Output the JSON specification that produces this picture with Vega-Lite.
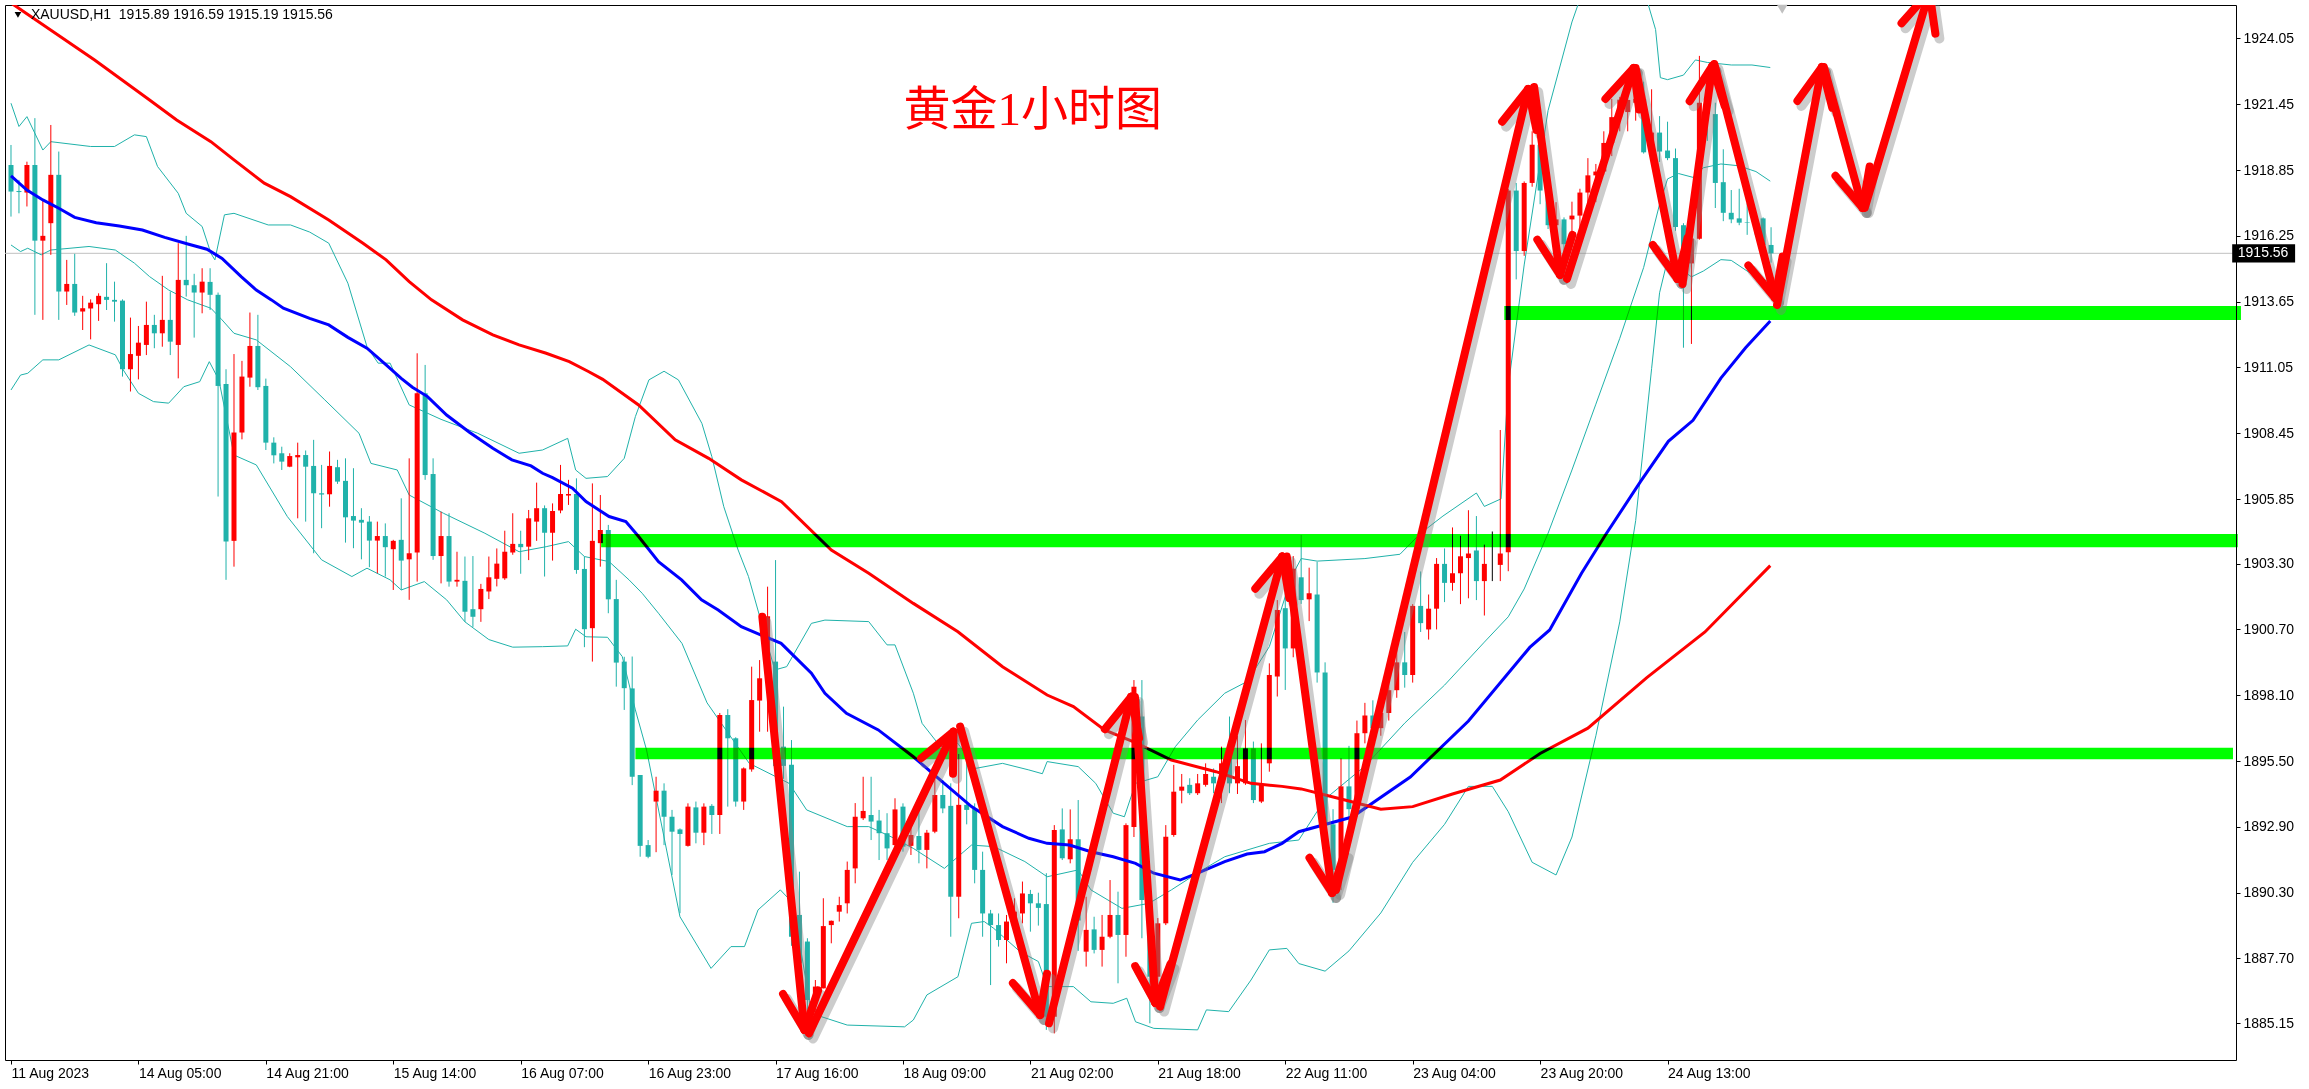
{
"$schema": "https://vega.github.io/schema/vega-lite/v6.json",
"width": 2231, "height": 1055,
"autosize": {"type": "none"},
"padding": {"left": 5, "top": 5, "right": 73, "bottom": 29},
"background": "white",
"config": {"view": {"stroke": "#000000", "strokeWidth": 1}, "axis": {"grid": false, "title": null}},
"datasets": {
"candles": [
{"i":0,"o":1919.05,"h":1919.84,"l":1917.01,"c":1918.00},
{"i":1,"o":1918.02,"h":1918.46,"l":1917.14,"c":1917.98},
{"i":2,"o":1917.96,"h":1919.18,"l":1917.41,"c":1919.05},
{"i":3,"o":1919.05,"h":1920.90,"l":1913.13,"c":1916.06},
{"i":4,"o":1916.06,"h":1917.67,"l":1912.93,"c":1916.25},
{"i":5,"o":1916.75,"h":1920.63,"l":1915.50,"c":1918.66},
{"i":6,"o":1918.66,"h":1919.58,"l":1912.93,"c":1914.05},
{"i":7,"o":1914.05,"h":1915.30,"l":1913.52,"c":1914.35},
{"i":8,"o":1914.35,"h":1915.54,"l":1913.09,"c":1913.22},
{"i":9,"o":1913.26,"h":1913.88,"l":1912.53,"c":1913.39},
{"i":10,"o":1913.38,"h":1913.74,"l":1912.16,"c":1913.61},
{"i":11,"o":1913.55,"h":1913.98,"l":1912.89,"c":1913.88},
{"i":12,"o":1913.84,"h":1915.17,"l":1913.32,"c":1913.72},
{"i":13,"o":1913.72,"h":1914.44,"l":1912.86,"c":1913.65},
{"i":14,"o":1913.69,"h":1913.74,"l":1910.69,"c":1910.98},
{"i":15,"o":1910.98,"h":1913.02,"l":1910.10,"c":1911.58},
{"i":16,"o":1911.51,"h":1912.69,"l":1910.58,"c":1912.03},
{"i":17,"o":1911.94,"h":1913.65,"l":1911.54,"c":1912.73},
{"i":18,"o":1912.73,"h":1913.13,"l":1911.81,"c":1912.40},
{"i":19,"o":1912.40,"h":1914.67,"l":1911.87,"c":1912.93},
{"i":20,"o":1912.93,"h":1914.05,"l":1911.54,"c":1912.07},
{"i":21,"o":1911.94,"h":1915.96,"l":1910.62,"c":1914.51},
{"i":22,"o":1914.51,"h":1916.25,"l":1913.85,"c":1914.30},
{"i":23,"o":1914.30,"h":1914.75,"l":1912.23,"c":1914.01},
{"i":24,"o":1914.01,"h":1914.97,"l":1913.19,"c":1914.44},
{"i":25,"o":1914.43,"h":1914.97,"l":1913.32,"c":1913.92},
{"i":26,"o":1913.92,"h":1914.01,"l":1905.95,"c":1910.32},
{"i":27,"o":1910.40,"h":1910.98,"l":1902.66,"c":1904.17},
{"i":28,"o":1904.20,"h":1911.58,"l":1903.18,"c":1908.48},
{"i":29,"o":1908.48,"h":1911.31,"l":1908.21,"c":1910.69},
{"i":30,"o":1910.65,"h":1913.22,"l":1910.29,"c":1911.90},
{"i":31,"o":1911.90,"h":1913.13,"l":1910.16,"c":1910.27},
{"i":32,"o":1910.32,"h":1910.61,"l":1907.79,"c":1908.08},
{"i":33,"o":1908.08,"h":1908.29,"l":1907.26,"c":1907.58},
{"i":34,"o":1907.66,"h":1907.92,"l":1907.00,"c":1907.33},
{"i":35,"o":1907.13,"h":1907.66,"l":1907.11,"c":1907.55},
{"i":36,"o":1907.50,"h":1908.08,"l":1905.09,"c":1907.59},
{"i":37,"o":1907.59,"h":1907.77,"l":1904.96,"c":1907.13},
{"i":38,"o":1907.16,"h":1908.19,"l":1903.71,"c":1906.08},
{"i":39,"o":1906.08,"h":1907.20,"l":1904.70,"c":1906.03},
{"i":40,"o":1906.04,"h":1907.73,"l":1905.55,"c":1907.16},
{"i":41,"o":1907.11,"h":1907.40,"l":1906.45,"c":1906.54},
{"i":42,"o":1906.57,"h":1907.46,"l":1904.13,"c":1905.13},
{"i":43,"o":1905.18,"h":1907.07,"l":1903.91,"c":1905.00},
{"i":44,"o":1905.03,"h":1905.49,"l":1903.47,"c":1904.92},
{"i":45,"o":1904.96,"h":1905.18,"l":1903.16,"c":1904.21},
{"i":46,"o":1904.21,"h":1904.96,"l":1902.92,"c":1904.39},
{"i":47,"o":1904.39,"h":1904.89,"l":1902.79,"c":1903.95},
{"i":48,"o":1903.87,"h":1904.24,"l":1902.26,"c":1904.20},
{"i":49,"o":1904.24,"h":1905.88,"l":1902.26,"c":1903.42},
{"i":50,"o":1903.47,"h":1907.46,"l":1901.87,"c":1903.71},
{"i":51,"o":1903.74,"h":1911.61,"l":1902.59,"c":1910.03},
{"i":52,"o":1910.03,"h":1911.15,"l":1906.61,"c":1906.80},
{"i":53,"o":1906.84,"h":1907.46,"l":1903.45,"c":1903.60},
{"i":54,"o":1903.60,"h":1905.35,"l":1902.52,"c":1904.39},
{"i":55,"o":1904.39,"h":1905.29,"l":1902.39,"c":1902.59},
{"i":56,"o":1902.59,"h":1903.77,"l":1902.39,"c":1902.66},
{"i":57,"o":1902.62,"h":1903.58,"l":1901.00,"c":1901.40},
{"i":58,"o":1901.50,"h":1903.60,"l":1900.80,"c":1901.20},
{"i":59,"o":1901.50,"h":1902.50,"l":1901.00,"c":1902.30},
{"i":60,"o":1902.20,"h":1903.58,"l":1901.90,"c":1902.76},
{"i":61,"o":1902.70,"h":1903.90,"l":1902.40,"c":1903.30},
{"i":62,"o":1902.72,"h":1904.60,"l":1902.66,"c":1903.77},
{"i":63,"o":1903.74,"h":1905.29,"l":1903.65,"c":1904.08},
{"i":64,"o":1904.08,"h":1904.60,"l":1902.90,"c":1903.95},
{"i":65,"o":1903.97,"h":1905.42,"l":1903.44,"c":1905.09},
{"i":66,"o":1904.96,"h":1906.50,"l":1904.20,"c":1905.49},
{"i":67,"o":1905.49,"h":1905.60,"l":1902.79,"c":1904.52},
{"i":68,"o":1904.52,"h":1905.68,"l":1903.42,"c":1905.38},
{"i":69,"o":1905.40,"h":1907.20,"l":1905.29,"c":1906.05},
{"i":70,"o":1905.99,"h":1906.61,"l":1905.62,"c":1906.05},
{"i":71,"o":1906.05,"h":1906.67,"l":1902.90,"c":1903.05},
{"i":72,"o":1903.09,"h":1903.58,"l":1900.00,"c":1900.71},
{"i":73,"o":1900.75,"h":1906.47,"l":1899.43,"c":1904.20},
{"i":74,"o":1904.11,"h":1906.01,"l":1903.18,"c":1904.63},
{"i":75,"o":1904.63,"h":1904.83,"l":1901.34,"c":1901.89},
{"i":76,"o":1901.90,"h":1902.66,"l":1898.44,"c":1899.39},
{"i":77,"o":1899.43,"h":1899.62,"l":1897.52,"c":1898.38},
{"i":78,"o":1898.37,"h":1899.63,"l":1894.55,"c":1894.88},
{"i":79,"o":1894.95,"h":1894.95,"l":1891.72,"c":1892.15},
{"i":80,"o":1892.18,"h":1892.38,"l":1891.66,"c":1891.72},
{"i":81,"o":1893.90,"h":1894.88,"l":1891.90,"c":1894.33},
{"i":82,"o":1894.33,"h":1894.62,"l":1892.18,"c":1893.30},
{"i":83,"o":1893.30,"h":1893.57,"l":1891.00,"c":1892.71},
{"i":84,"o":1892.80,"h":1892.84,"l":1889.49,"c":1892.62},
{"i":85,"o":1892.15,"h":1893.83,"l":1892.12,"c":1893.70},
{"i":86,"o":1893.67,"h":1893.90,"l":1892.25,"c":1892.67},
{"i":87,"o":1892.67,"h":1893.83,"l":1892.18,"c":1893.70},
{"i":88,"o":1893.73,"h":1893.80,"l":1892.62,"c":1893.37},
{"i":89,"o":1893.37,"h":1897.40,"l":1892.62,"c":1897.32},
{"i":90,"o":1897.32,"h":1897.55,"l":1893.70,"c":1896.40},
{"i":91,"o":1896.40,"h":1896.44,"l":1893.70,"c":1893.90},
{"i":92,"o":1893.90,"h":1895.25,"l":1893.57,"c":1895.21},
{"i":93,"o":1895.17,"h":1899.23,"l":1895.08,"c":1897.91},
{"i":94,"o":1897.89,"h":1899.49,"l":1896.66,"c":1898.77},
{"i":95,"o":1898.77,"h":1902.39,"l":1896.66,"c":1901.22},
{"i":96,"o":1899.43,"h":1903.44,"l":1895.00,"c":1895.30},
{"i":97,"o":1896.07,"h":1897.65,"l":1894.80,"c":1895.31},
{"i":98,"o":1895.35,"h":1896.33,"l":1888.20,"c":1888.56},
{"i":99,"o":1889.42,"h":1891.13,"l":1885.67,"c":1887.51},
{"i":100,"o":1888.37,"h":1888.50,"l":1885.67,"c":1886.06},
{"i":101,"o":1886.13,"h":1886.85,"l":1885.40,"c":1886.59},
{"i":102,"o":1886.52,"h":1890.08,"l":1886.52,"c":1888.98},
{"i":103,"o":1889.02,"h":1889.20,"l":1888.30,"c":1889.19},
{"i":104,"o":1889.55,"h":1890.14,"l":1889.16,"c":1889.81},
{"i":105,"o":1889.88,"h":1891.53,"l":1889.48,"c":1891.20},
{"i":106,"o":1891.26,"h":1893.84,"l":1890.67,"c":1893.30},
{"i":107,"o":1893.24,"h":1894.88,"l":1893.17,"c":1893.53},
{"i":108,"o":1893.37,"h":1894.88,"l":1892.38,"c":1893.11},
{"i":109,"o":1893.15,"h":1893.57,"l":1891.59,"c":1892.65},
{"i":110,"o":1892.65,"h":1893.44,"l":1891.59,"c":1892.05},
{"i":111,"o":1892.18,"h":1894.03,"l":1892.12,"c":1893.59},
{"i":112,"o":1893.70,"h":1893.83,"l":1891.92,"c":1892.12},
{"i":113,"o":1892.15,"h":1893.04,"l":1891.79,"c":1892.58},
{"i":114,"o":1892.54,"h":1893.57,"l":1891.46,"c":1891.99},
{"i":115,"o":1891.99,"h":1892.78,"l":1891.26,"c":1892.67},
{"i":116,"o":1892.71,"h":1894.88,"l":1892.65,"c":1894.16},
{"i":117,"o":1894.16,"h":1894.75,"l":1893.44,"c":1893.63},
{"i":118,"o":1893.73,"h":1894.62,"l":1888.56,"c":1890.14},
{"i":119,"o":1890.14,"h":1895.78,"l":1889.29,"c":1893.77},
{"i":120,"o":1893.77,"h":1895.94,"l":1893.00,"c":1893.57},
{"i":121,"o":1893.63,"h":1893.83,"l":1890.67,"c":1891.20},
{"i":122,"o":1891.20,"h":1891.92,"l":1888.56,"c":1889.48},
{"i":123,"o":1889.48,"h":1889.62,"l":1886.65,"c":1889.02},
{"i":124,"o":1889.02,"h":1889.48,"l":1888.17,"c":1888.43},
{"i":125,"o":1888.43,"h":1889.42,"l":1887.51,"c":1889.16},
{"i":126,"o":1889.16,"h":1890.08,"l":1888.69,"c":1889.55},
{"i":127,"o":1889.48,"h":1890.74,"l":1889.09,"c":1890.27},
{"i":128,"o":1890.25,"h":1890.41,"l":1888.76,"c":1889.88},
{"i":129,"o":1889.88,"h":1890.30,"l":1889.00,"c":1889.70},
{"i":130,"o":1889.85,"h":1891.07,"l":1884.88,"c":1885.40},
{"i":131,"o":1885.40,"h":1892.97,"l":1884.74,"c":1892.78},
{"i":132,"o":1892.80,"h":1893.63,"l":1891.59,"c":1891.66},
{"i":133,"o":1891.62,"h":1893.59,"l":1891.46,"c":1892.41},
{"i":134,"o":1892.41,"h":1893.96,"l":1888.00,"c":1889.20},
{"i":135,"o":1887.97,"h":1890.14,"l":1887.38,"c":1888.83},
{"i":136,"o":1888.85,"h":1889.35,"l":1887.90,"c":1888.04},
{"i":137,"o":1888.04,"h":1889.42,"l":1887.38,"c":1888.56},
{"i":138,"o":1888.56,"h":1890.80,"l":1888.50,"c":1889.42},
{"i":139,"o":1889.42,"h":1890.34,"l":1886.72,"c":1888.63},
{"i":140,"o":1888.63,"h":1893.04,"l":1887.77,"c":1892.97},
{"i":141,"o":1892.90,"h":1898.70,"l":1892.50,"c":1898.44},
{"i":142,"o":1897.26,"h":1898.70,"l":1888.50,"c":1890.01},
{"i":143,"o":1890.01,"h":1890.14,"l":1885.14,"c":1886.98},
{"i":144,"o":1886.98,"h":1889.30,"l":1886.50,"c":1889.09},
{"i":145,"o":1889.09,"h":1892.97,"l":1889.02,"c":1892.51},
{"i":146,"o":1892.58,"h":1895.35,"l":1892.51,"c":1894.29},
{"i":147,"o":1894.33,"h":1894.99,"l":1893.83,"c":1894.49},
{"i":148,"o":1894.56,"h":1894.82,"l":1894.16,"c":1894.23},
{"i":149,"o":1894.23,"h":1894.99,"l":1894.16,"c":1894.62},
{"i":150,"o":1894.56,"h":1895.41,"l":1894.49,"c":1894.99},
{"i":151,"o":1894.88,"h":1895.21,"l":1894.23,"c":1894.62},
{"i":152,"o":1894.62,"h":1896.07,"l":1893.84,"c":1895.41},
{"i":153,"o":1895.67,"h":1897.26,"l":1894.23,"c":1894.62},
{"i":154,"o":1894.62,"h":1896.50,"l":1894.20,"c":1895.30},
{"i":155,"o":1894.62,"h":1897.12,"l":1894.56,"c":1896.00},
{"i":156,"o":1896.00,"h":1896.27,"l":1893.84,"c":1893.96},
{"i":157,"o":1893.90,"h":1896.20,"l":1893.84,"c":1894.56},
{"i":158,"o":1895.41,"h":1899.36,"l":1895.08,"c":1898.90},
{"i":159,"o":1898.84,"h":1901.86,"l":1898.05,"c":1901.47},
{"i":160,"o":1901.54,"h":1902.52,"l":1898.31,"c":1899.95},
{"i":161,"o":1899.95,"h":1903.60,"l":1899.60,"c":1903.10},
{"i":162,"o":1902.76,"h":1904.43,"l":1901.71,"c":1901.86},
{"i":163,"o":1901.89,"h":1903.14,"l":1901.03,"c":1902.13},
{"i":164,"o":1902.08,"h":1903.37,"l":1898.60,"c":1899.00},
{"i":165,"o":1899.00,"h":1899.40,"l":1892.50,"c":1893.00},
{"i":166,"o":1893.00,"h":1893.60,"l":1889.90,"c":1891.20},
{"i":167,"o":1891.20,"h":1895.60,"l":1890.40,"c":1894.50},
{"i":168,"o":1894.50,"h":1896.10,"l":1892.90,"c":1893.60},
{"i":169,"o":1893.60,"h":1897.10,"l":1893.30,"c":1896.60},
{"i":170,"o":1896.60,"h":1897.80,"l":1896.20,"c":1897.30},
{"i":171,"o":1897.30,"h":1897.90,"l":1896.30,"c":1896.80},
{"i":172,"o":1896.80,"h":1898.00,"l":1896.50,"c":1897.40},
{"i":173,"o":1897.40,"h":1898.90,"l":1897.10,"c":1898.30},
{"i":174,"o":1898.30,"h":1900.10,"l":1898.00,"c":1899.40},
{"i":175,"o":1899.40,"h":1900.60,"l":1898.40,"c":1898.90},
{"i":176,"o":1898.90,"h":1901.70,"l":1898.60,"c":1901.63},
{"i":177,"o":1901.63,"h":1902.99,"l":1900.60,"c":1900.95},
{"i":178,"o":1900.70,"h":1902.08,"l":1900.30,"c":1901.52},
{"i":179,"o":1901.52,"h":1903.52,"l":1900.70,"c":1903.29},
{"i":180,"o":1903.29,"h":1903.90,"l":1901.78,"c":1902.54},
{"i":181,"o":1902.54,"h":1904.73,"l":1902.23,"c":1902.92},
{"i":182,"o":1902.92,"h":1904.40,"l":1901.70,"c":1903.59},
{"i":183,"o":1903.52,"h":1905.41,"l":1901.93,"c":1903.70},
{"i":184,"o":1903.82,"h":1905.18,"l":1901.86,"c":1902.61},
{"i":185,"o":1902.61,"h":1904.05,"l":1901.25,"c":1903.29},
{"i":186,"o":1903.29,"h":1904.57,"l":1902.61,"c":1903.29},
{"i":187,"o":1903.25,"h":1908.58,"l":1902.61,"c":1903.70},
{"i":188,"o":1903.75,"h":1918.10,"l":1903.00,"c":1918.04},
{"i":189,"o":1918.04,"h":1918.34,"l":1914.53,"c":1915.65},
{"i":190,"o":1915.65,"h":1918.40,"l":1915.46,"c":1918.34},
{"i":191,"o":1918.34,"h":1920.38,"l":1918.19,"c":1919.85},
{"i":192,"o":1919.85,"h":1921.06,"l":1917.50,"c":1918.04},
{"i":193,"o":1918.04,"h":1918.10,"l":1916.52,"c":1916.67},
{"i":194,"o":1916.67,"h":1917.58,"l":1915.31,"c":1916.90},
{"i":195,"o":1916.90,"h":1916.98,"l":1914.48,"c":1915.92},
{"i":196,"o":1916.90,"h":1917.60,"l":1916.37,"c":1917.05},
{"i":197,"o":1917.05,"h":1918.11,"l":1916.45,"c":1917.96},
{"i":198,"o":1917.96,"h":1919.32,"l":1917.50,"c":1918.64},
{"i":199,"o":1918.64,"h":1919.09,"l":1917.58,"c":1918.79},
{"i":200,"o":1918.79,"h":1920.38,"l":1918.67,"c":1919.92},
{"i":201,"o":1919.92,"h":1921.66,"l":1919.40,"c":1920.94},
{"i":202,"o":1920.94,"h":1921.74,"l":1920.38,"c":1921.63},
{"i":203,"o":1921.14,"h":1922.42,"l":1920.38,"c":1921.62},
{"i":204,"o":1921.51,"h":1922.70,"l":1920.80,"c":1921.66},
{"i":205,"o":1921.66,"h":1922.34,"l":1919.50,"c":1919.55},
{"i":206,"o":1919.55,"h":1922.04,"l":1919.40,"c":1920.33},
{"i":207,"o":1920.33,"h":1920.98,"l":1919.17,"c":1919.58},
{"i":208,"o":1919.62,"h":1920.76,"l":1919.24,"c":1919.32},
{"i":209,"o":1919.32,"h":1919.70,"l":1916.45,"c":1916.60},
{"i":210,"o":1916.67,"h":1916.75,"l":1911.83,"c":1914.71},
{"i":211,"o":1915.16,"h":1916.40,"l":1911.98,"c":1916.14},
{"i":212,"o":1916.14,"h":1923.36,"l":1916.10,"c":1921.51},
{"i":213,"o":1921.51,"h":1922.04,"l":1920.00,"c":1921.06},
{"i":214,"o":1921.06,"h":1921.51,"l":1917.35,"c":1918.34},
{"i":215,"o":1918.37,"h":1919.67,"l":1916.83,"c":1917.16},
{"i":216,"o":1917.16,"h":1918.06,"l":1916.75,"c":1916.90},
{"i":217,"o":1916.94,"h":1918.11,"l":1916.67,"c":1916.77},
{"i":218,"o":1916.78,"h":1917.54,"l":1916.29,"c":1916.76},
{"i":219,"o":1916.80,"h":1917.00,"l":1916.30,"c":1916.70},
{"i":220,"o":1916.94,"h":1916.98,"l":1915.69,"c":1915.89},
{"i":221,"o":1915.89,"h":1916.59,"l":1915.19,"c":1915.56}
],
"bb": [
{"b":"u","i":0,"p":1921.49},{"b":"u","i":1,"p":1920.57},{"b":"u","i":2,"p":1920.96},{"b":"u","i":4,"p":1919.64},{"b":"u","i":5,"p":1919.97},{"b":"u","i":10,"p":1919.78},{"b":"u","i":13,"p":1919.78},{"b":"u","i":15.5,"p":1920.24},{"b":"u","i":17,"p":1920.17},{"b":"u","i":18.4,"p":1918.99},{"b":"u","i":21,"p":1917.93},{"b":"u","i":22,"p":1917.14},{"b":"u","i":24,"p":1916.62},{"b":"u","i":25.1,"p":1915.56},{"b":"u","i":25.6,"p":1915.30},{"b":"u","i":26.8,"p":1917.08},{"b":"u","i":28,"p":1917.14},{"b":"u","i":32.3,"p":1916.68},{"b":"u","i":35.1,"p":1916.68},{"b":"u","i":37.5,"p":1916.40},{"b":"u","i":39.9,"p":1915.96},{"b":"u","i":42.3,"p":1914.38},{"b":"u","i":44.7,"p":1911.87},{"b":"u","i":46.1,"p":1911.22},{"b":"u","i":47.6,"p":1911.22},{"b":"u","i":50,"p":1909.57},{"b":"u","i":54,"p":1909.00},{"b":"u","i":58.6,"p":1908.45},{"b":"u","i":63.8,"p":1907.66},{"b":"u","i":66.75,"p":1907.79},{"b":"u","i":69.9,"p":1908.25},{"b":"u","i":70.9,"p":1907.00},{"b":"u","i":72.2,"p":1906.67},{"b":"u","i":74.9,"p":1906.74},{"b":"u","i":77,"p":1907.46},{"b":"u","i":78.4,"p":1909.11},{"b":"u","i":80.1,"p":1910.56},{"b":"u","i":82,"p":1910.90},{"b":"u","i":83.8,"p":1910.56},{"b":"u","i":86.75,"p":1908.84},{"b":"u","i":88,"p":1907.53},{"b":"u","i":89.5,"p":1905.55},{"b":"u","i":91.3,"p":1903.84},{"b":"u","i":92.6,"p":1902.79},{"b":"u","i":95.9,"p":1899.10},{"b":"u","i":97.4,"p":1899.23},{"b":"u","i":100.5,"p":1900.94},{"b":"u","i":102.2,"p":1901.07},{"b":"u","i":107.7,"p":1901.01},{"b":"u","i":110,"p":1900.09},{"b":"u","i":111,"p":1900.09},{"b":"u","i":113.3,"p":1898.18},{"b":"u","i":114.4,"p":1896.99},{"b":"u","i":116.7,"p":1896.07},{"b":"u","i":118.9,"p":1896.20},{"b":"u","i":121.1,"p":1895.21},{"b":"u","i":124.5,"p":1895.41},{"b":"u","i":127.8,"p":1895.15},{"b":"u","i":129.5,"p":1895.00},{"b":"u","i":130.1,"p":1895.48},{"b":"u","i":134,"p":1895.28},{"b":"u","i":136.2,"p":1894.62},{"b":"u","i":138.4,"p":1893.44},{"b":"u","i":139.8,"p":1893.30},{"b":"u","i":141.2,"p":1894.62},{"b":"u","i":144,"p":1894.88},{"b":"u","i":146.2,"p":1896.07},{"b":"u","i":149,"p":1897.12},{"b":"u","i":152.4,"p":1898.18},{"b":"u","i":155.2,"p":1898.64},{"b":"u","i":158,"p":1900.02},{"b":"u","i":160.8,"p":1902.79},{"b":"u","i":162,"p":1903.50},{"b":"u","i":164,"p":1903.40},{"b":"u","i":170,"p":1903.50},{"b":"u","i":174.4,"p":1903.67},{"b":"u","i":177,"p":1904.50},{"b":"u","i":179.8,"p":1905.18},{"b":"u","i":184,"p":1906.09},{"b":"u","i":185,"p":1905.56},{"b":"u","i":187.1,"p":1905.86},{"b":"u","i":188,"p":1910.30},{"b":"u","i":190,"p":1915.10},{"b":"u","i":193,"p":1921.20},{"b":"u","i":196,"p":1924.70},{"b":"u","i":198,"p":1926.50},{"b":"u","i":203,"p":1927.00},{"b":"u","i":205,"p":1926.00},{"b":"u","i":206.5,"p":1924.40},{"b":"u","i":207.1,"p":1922.50},{"b":"u","i":208,"p":1922.42},{"b":"u","i":210,"p":1922.60},{"b":"u","i":211.5,"p":1923.20},{"b":"u","i":213,"p":1923.10},{"b":"u","i":216,"p":1923.00},{"b":"u","i":218.6,"p":1923.00},{"b":"u","i":220.9,"p":1922.90},
{"b":"m","i":0,"p":1915.89},{"b":"m","i":1.2,"p":1915.63},{"b":"m","i":2.1,"p":1915.76},{"b":"m","i":3.8,"p":1915.50},{"b":"m","i":5,"p":1915.69},{"b":"m","i":9.8,"p":1915.83},{"b":"m","i":13.1,"p":1915.69},{"b":"m","i":15.5,"p":1915.17},{"b":"m","i":17.4,"p":1914.64},{"b":"m","i":19.8,"p":1914.11},{"b":"m","i":22.2,"p":1913.72},{"b":"m","i":25.1,"p":1913.39},{"b":"m","i":26.5,"p":1912.93},{"b":"m","i":28,"p":1912.40},{"b":"m","i":30.8,"p":1912.14},{"b":"m","i":35.1,"p":1911.08},{"b":"m","i":39.4,"p":1909.77},{"b":"m","i":43.7,"p":1908.45},{"b":"m","i":45.2,"p":1907.26},{"b":"m","i":48.5,"p":1907.00},{"b":"m","i":50,"p":1906.01},{"b":"m","i":54.3,"p":1905.29},{"b":"m","i":59.5,"p":1904.50},{"b":"m","i":63.8,"p":1903.77},{"b":"m","i":67.2,"p":1903.97},{"b":"m","i":70,"p":1904.17},{"b":"m","i":72,"p":1903.58},{"b":"m","i":75.1,"p":1903.38},{"b":"m","i":77.6,"p":1902.66},{"b":"m","i":79.25,"p":1902.13},{"b":"m","i":81.3,"p":1901.34},{"b":"m","i":84.25,"p":1900.15},{"b":"m","i":87.4,"p":1897.80},{"b":"m","i":92.7,"p":1895.41},{"b":"m","i":97.7,"p":1894.62},{"b":"m","i":99.9,"p":1893.57},{"b":"m","i":105,"p":1892.91},{"b":"m","i":107.7,"p":1892.91},{"b":"m","i":110.5,"p":1892.51},{"b":"m","i":113.3,"p":1892.05},{"b":"m","i":117.2,"p":1891.26},{"b":"m","i":118.9,"p":1891.72},{"b":"m","i":120.6,"p":1892.18},{"b":"m","i":123.4,"p":1892.12},{"b":"m","i":127.3,"p":1891.53},{"b":"m","i":130.1,"p":1890.93},{"b":"m","i":134,"p":1891.20},{"b":"m","i":135.6,"p":1890.41},{"b":"m","i":139.5,"p":1889.68},{"b":"m","i":142.9,"p":1889.88},{"b":"m","i":145.7,"p":1890.41},{"b":"m","i":149.6,"p":1891.20},{"b":"m","i":152.4,"p":1891.72},{"b":"m","i":158,"p":1892.25},{"b":"m","i":161.7,"p":1892.38},{"b":"m","i":165,"p":1894.00},{"b":"m","i":170,"p":1895.30},{"b":"m","i":175,"p":1897.00},{"b":"m","i":180,"p":1898.50},{"b":"m","i":185,"p":1900.20},{"b":"m","i":188,"p":1901.20},{"b":"m","i":190,"p":1902.30},{"b":"m","i":193,"p":1904.50},{"b":"m","i":196,"p":1907.00},{"b":"m","i":199,"p":1909.60},{"b":"m","i":202,"p":1912.20},{"b":"m","i":205,"p":1915.00},{"b":"m","i":207,"p":1917.50},{"b":"m","i":208,"p":1918.50},{"b":"m","i":209.4,"p":1918.71},{"b":"m","i":211.2,"p":1918.56},{"b":"m","i":212.5,"p":1918.94},{"b":"m","i":214.7,"p":1919.09},{"b":"m","i":216.9,"p":1919.02},{"b":"m","i":219.1,"p":1918.79},{"b":"m","i":220.9,"p":1918.41},
{"b":"l","i":0,"p":1910.16},{"b":"l","i":1.2,"p":1910.75},{"b":"l","i":2.1,"p":1910.82},{"b":"l","i":4,"p":1911.35},{"b":"l","i":6,"p":1911.35},{"b":"l","i":9.8,"p":1911.94},{"b":"l","i":13.1,"p":1911.55},{"b":"l","i":14.1,"p":1910.95},{"b":"l","i":16,"p":1910.03},{"b":"l","i":17.9,"p":1909.70},{"b":"l","i":19.8,"p":1909.64},{"b":"l","i":21.7,"p":1910.29},{"b":"l","i":23.7,"p":1910.49},{"b":"l","i":24.9,"p":1911.28},{"b":"l","i":26.1,"p":1910.56},{"b":"l","i":28,"p":1907.59},{"b":"l","i":30.8,"p":1907.20},{"b":"l","i":34.7,"p":1905.16},{"b":"l","i":39,"p":1903.45},{"b":"l","i":42.8,"p":1902.79},{"b":"l","i":44.7,"p":1903.12},{"b":"l","i":47.6,"p":1902.66},{"b":"l","i":49,"p":1902.26},{"b":"l","i":51.9,"p":1902.59},{"b":"l","i":54.7,"p":1901.87},{"b":"l","i":57,"p":1901.00},{"b":"l","i":60,"p":1900.30},{"b":"l","i":63,"p":1900.00},{"b":"l","i":66.75,"p":1900.02},{"b":"l","i":69.9,"p":1900.05},{"b":"l","i":70.9,"p":1900.71},{"b":"l","i":72.2,"p":1900.41},{"b":"l","i":74.9,"p":1900.39},{"b":"l","i":76.75,"p":1899.63},{"b":"l","i":78.4,"p":1897.52},{"b":"l","i":79.8,"p":1895.94},{"b":"l","i":84,"p":1889.35},{"b":"l","i":87.9,"p":1887.31},{"b":"l","i":90.4,"p":1888.17},{"b":"l","i":92.1,"p":1888.17},{"b":"l","i":93.8,"p":1889.62},{"b":"l","i":96.6,"p":1890.41},{"b":"l","i":98.2,"p":1889.88},{"b":"l","i":100.5,"p":1885.53},{"b":"l","i":105,"p":1885.07},{"b":"l","i":112.2,"p":1885.00},{"b":"l","i":113.3,"p":1885.27},{"b":"l","i":115,"p":1886.26},{"b":"l","i":118.9,"p":1886.98},{"b":"l","i":120.6,"p":1889.09},{"b":"l","i":122.2,"p":1889.16},{"b":"l","i":123.4,"p":1888.89},{"b":"l","i":126.7,"p":1887.97},{"b":"l","i":129,"p":1887.58},{"b":"l","i":130.1,"p":1886.59},{"b":"l","i":133.4,"p":1886.59},{"b":"l","i":135.6,"p":1885.99},{"b":"l","i":138.4,"p":1885.93},{"b":"l","i":140.1,"p":1886.13},{"b":"l","i":141.2,"p":1885.20},{"b":"l","i":143.5,"p":1884.94},{"b":"l","i":149,"p":1884.88},{"b":"l","i":150.1,"p":1885.67},{"b":"l","i":152.9,"p":1885.60},{"b":"l","i":155.7,"p":1886.85},{"b":"l","i":158,"p":1888.04},{"b":"l","i":160.2,"p":1888.10},{"b":"l","i":161.7,"p":1887.50},{"b":"l","i":165,"p":1887.20},{"b":"l","i":168,"p":1888.00},{"b":"l","i":172,"p":1889.50},{"b":"l","i":176,"p":1891.50},{"b":"l","i":180,"p":1893.00},{"b":"l","i":183,"p":1894.50},{"b":"l","i":186,"p":1894.50},{"b":"l","i":188,"p":1893.50},{"b":"l","i":191,"p":1891.50},{"b":"l","i":194,"p":1891.00},{"b":"l","i":196,"p":1892.50},{"b":"l","i":199,"p":1896.50},{"b":"l","i":202,"p":1901.00},{"b":"l","i":204,"p":1905.00},{"b":"l","i":206,"p":1911.00},{"b":"l","i":207,"p":1914.00},{"b":"l","i":208,"p":1915.30},{"b":"l","i":209.4,"p":1915.01},{"b":"l","i":211,"p":1914.63},{"b":"l","i":212.5,"p":1914.86},{"b":"l","i":214.7,"p":1915.31},{"b":"l","i":216,"p":1915.28},{"b":"l","i":218.7,"p":1914.71},{"b":"l","i":220.9,"p":1914.41}
],
"blue": [
{"i":0,"p":1918.62},{"i":2,"p":1918.06},{"i":4,"p":1917.67},{"i":6,"p":1917.34},{"i":8,"p":1916.98},{"i":10.7,"p":1916.77},{"i":13.6,"p":1916.64},{"i":16.5,"p":1916.48},{"i":19.3,"p":1916.19},{"i":22.2,"p":1915.93},{"i":24.6,"p":1915.72},{"i":26.5,"p":1915.36},{"i":28.9,"p":1914.64},{"i":30.8,"p":1914.11},{"i":32.7,"p":1913.72},{"i":34.2,"p":1913.39},{"i":37.5,"p":1912.99},{"i":39.9,"p":1912.73},{"i":42.3,"p":1912.24},{"i":44.7,"p":1911.81},{"i":47.1,"p":1911.15},{"i":49,"p":1910.62},{"i":50.4,"p":1910.27},{"i":52.3,"p":1909.90},{"i":54.7,"p":1909.17},{"i":57.6,"p":1908.48},{"i":60.5,"p":1907.86},{"i":62.9,"p":1907.40},{"i":65.3,"p":1907.16},{"i":66.75,"p":1906.87},{"i":68,"p":1906.70},{"i":70.5,"p":1906.28},{"i":72.2,"p":1905.75},{"i":75.1,"p":1905.16},{"i":77.2,"p":1904.96},{"i":78.8,"p":1904.37},{"i":81.3,"p":1903.38},{"i":84.2,"p":1902.66},{"i":86.7,"p":1901.87},{"i":88.8,"p":1901.47},{"i":91.7,"p":1900.81},{"i":94.2,"p":1900.48},{"i":96.7,"p":1900.15},{"i":100.5,"p":1898.97},{"i":102.2,"p":1898.18},{"i":104.9,"p":1897.39},{"i":108.9,"p":1896.73},{"i":113.3,"p":1895.67},{"i":116.7,"p":1894.75},{"i":120.6,"p":1893.70},{"i":124.5,"p":1892.91},{"i":127.8,"p":1892.45},{"i":130.1,"p":1892.25},{"i":132.9,"p":1892.18},{"i":135.6,"p":1891.92},{"i":138.4,"p":1891.72},{"i":141.2,"p":1891.46},{"i":143.5,"p":1891.07},{"i":146.8,"p":1890.80},{"i":149,"p":1891.07},{"i":152.4,"p":1891.53},{"i":155.2,"p":1891.83},{"i":157.4,"p":1891.92},{"i":159.6,"p":1892.25},{"i":161.7,"p":1892.71},{"i":168.4,"p":1893.29},{"i":175.7,"p":1894.87},{"i":183,"p":1897.08},{"i":190.7,"p":1899.99},{"i":193.2,"p":1900.68},{"i":197.2,"p":1902.92},{"i":200.2,"p":1904.43},{"i":204.6,"p":1906.54},{"i":208.1,"p":1908.13},{"i":211.2,"p":1908.96},{"i":214.7,"p":1910.63},{"i":217.8,"p":1911.83},{"i":220.9,"p":1912.89}
],
"red": [
{"i":0,"p":1925.45},{"i":10.5,"p":1923.20},{"i":17.4,"p":1921.62},{"i":20.8,"p":1920.83},{"i":25.1,"p":1919.97},{"i":28,"p":1919.25},{"i":31.8,"p":1918.33},{"i":35.1,"p":1917.80},{"i":39.9,"p":1916.88},{"i":44.2,"p":1915.96},{"i":47.1,"p":1915.30},{"i":50,"p":1914.44},{"i":52.8,"p":1913.72},{"i":56.7,"p":1912.93},{"i":60.5,"p":1912.34},{"i":63.8,"p":1911.94},{"i":67.2,"p":1911.61},{"i":70.1,"p":1911.28},{"i":72.5,"p":1910.89},{"i":74.3,"p":1910.58},{"i":78.8,"p":1909.57},{"i":83.4,"p":1908.19},{"i":87.6,"p":1907.46},{"i":91.7,"p":1906.61},{"i":96.75,"p":1905.75},{"i":103,"p":1903.84},{"i":107.7,"p":1902.92},{"i":113.3,"p":1901.73},{"i":118.9,"p":1900.61},{"i":124.5,"p":1899.23},{"i":130.1,"p":1898.11},{"i":133.4,"p":1897.65},{"i":137.3,"p":1896.73},{"i":141.2,"p":1896.23},{"i":145.7,"p":1895.54},{"i":151.3,"p":1895.08},{"i":155.7,"p":1894.62},{"i":159.6,"p":1894.50},{"i":162,"p":1894.40},{"i":167,"p":1894.00},{"i":172,"p":1893.60},{"i":176,"p":1893.70},{"i":181,"p":1894.20},{"i":187,"p":1894.75},{"i":192,"p":1895.80},{"i":198,"p":1896.80},{"i":205.4,"p":1898.80},{"i":212.7,"p":1900.60},{"i":220.9,"p":1903.22}
],
"zones": [
{"i":187.5,"i2":280.0,"p":1913.48,"p2":1912.93},
{"i":74.1,"i2":279.6,"p":1904.47,"p2":1903.95},
{"i":78.4,"i2":279.0,"p":1896.03,"p2":1895.57}
],
"arrows": [
{"i":94.34,"p":1901.20,"i2":99.63,"p2":1884.88},{"i":99.63,"p":1884.88,"i2":101.35,"p2":1886.44},{"i":99.63,"p":1884.88,"i2":96.94,"p2":1886.30},
{"i":100.2,"p":1884.74,"i2":118.34,"p2":1896.66},{"i":118.34,"p":1896.66,"i2":114.28,"p2":1895.61},{"i":118.34,"p":1896.66,"i2":118.28,"p2":1895.00},
{"i":119.18,"p":1896.86,"i2":129.21,"p2":1885.47},{"i":129.21,"p":1885.47,"i2":130.08,"p2":1887.10},{"i":129.21,"p":1885.47,"i2":125.8,"p2":1886.73},
{"i":130.34,"p":1885.14,"i2":140.66,"p2":1898.04},{"i":140.66,"p":1898.04,"i2":137.35,"p2":1896.76},{"i":140.66,"p":1898.04,"i2":141.65,"p2":1896.41},
{"i":141.13,"p":1898.03,"i2":143.7,"p2":1885.94},{"i":143.7,"p":1885.94,"i2":145.59,"p2":1887.49},{"i":143.7,"p":1885.94,"i2":141.16,"p2":1887.40},
{"i":144.29,"p":1885.80,"i2":159.63,"p2":1903.58},{"i":159.63,"p":1903.58,"i2":156.24,"p2":1902.31},{"i":159.63,"p":1903.58,"i2":160.51,"p2":1901.94},
{"i":160.19,"p":1903.58,"i2":165.88,"p2":1890.29},{"i":165.88,"p":1890.29,"i2":167.44,"p2":1891.87},{"i":165.88,"p":1890.29,"i2":163.04,"p2":1891.68},
{"i":166.38,"p":1890.41,"i2":190.5,"p2":1922.05},{"i":190.5,"p":1922.05,"i2":187.23,"p2":1920.76},{"i":190.5,"p":1922.05,"i2":191.54,"p2":1920.43},
{"i":191.25,"p":1922.13,"i2":194.5,"p2":1914.71},{"i":194.5,"p":1914.71,"i2":196.05,"p2":1916.29},{"i":194.5,"p":1914.71,"i2":191.65,"p2":1916.10},
{"i":195.38,"p":1914.55,"i2":203.75,"p2":1922.88},{"i":203.75,"p":1922.88,"i2":200.2,"p2":1921.66},{"i":203.75,"p":1922.88,"i2":204.43,"p2":1921.24},
{"i":204.0,"p":1922.88,"i2":209.25,"p2":1914.55},{"i":209.25,"p":1914.55,"i2":210.5,"p2":1916.16},{"i":209.25,"p":1914.55,"i2":206.15,"p2":1915.89},
{"i":209.88,"p":1914.35,"i2":213.63,"p2":1922.96},{"i":213.63,"p":1922.96,"i2":210.78,"p2":1921.57},{"i":213.63,"p":1922.96,"i2":215.18,"p2":1921.38},
{"i":213.88,"p":1923.04,"i2":221.5,"p2":1913.80},{"i":221.5,"p":1913.80,"i2":222.45,"p2":1915.43},{"i":221.5,"p":1913.80,"i2":218.15,"p2":1915.08},
{"i":221.75,"p":1913.52,"i2":227.38,"p2":1922.92},{"i":227.38,"p":1922.92,"i2":224.31,"p2":1921.58},{"i":227.38,"p":1922.92,"i2":228.68,"p2":1921.31},
{"i":227.63,"p":1922.92,"i2":232.5,"p2":1917.35},{"i":232.5,"p":1917.35,"i2":233.38,"p2":1918.99},{"i":232.5,"p":1917.35,"i2":229.09,"p2":1918.62},
{"i":232.75,"p":1917.35,"i2":240.88,"p2":1925.89},{"i":240.88,"p":1925.89,"i2":237.38,"p2":1924.65},{"i":240.88,"p":1925.89,"i2":241.63,"p2":1924.24}
]
},
"layer": [
{
"data": {"values": [{"p": 1915.56}]},
"mark": {"type": "rule", "color": "#C0C0C0", "strokeWidth": 1},
"encoding": {"y": {"field": "p", "type": "quantitative", "scale": {"domain": [1883.69, 1925.37], "nice": false, "zero": false}}}
},
{
"data": {"name": "bb"},
"mark": {"type": "line", "color": "#20B2AA", "strokeWidth": 1, "clip": true},
"encoding": {
"x": {"field": "i", "type": "quantitative", "scale": {"domain": [-0.125, 278.75], "nice": false, "zero": false}},
"y": {"field": "p", "type": "quantitative", "scale": {"domain": [1883.69, 1925.37], "nice": false, "zero": false}},
"detail": {"field": "b"}
}
},
{
"data": {"name": "candles"},
"mark": {"type": "rule", "strokeWidth": 1, "clip": true},
"encoding": {
"x": {"field": "i", "type": "quantitative", "scale": {"domain": [-0.125, 278.75], "nice": false, "zero": false},
 "axis": {"orient": "bottom", "title": null, "grid": false, "domain": false, "values": [0,16,32,48,64,80,96,112,128,144,160,176,192,208],
  "labelExpr": "['11 Aug 2023','14 Aug 05:00','14 Aug 21:00','15 Aug 14:00','16 Aug 07:00','16 Aug 23:00','17 Aug 16:00','18 Aug 09:00','21 Aug 02:00','21 Aug 18:00','22 Aug 11:00','23 Aug 04:00','23 Aug 20:00','24 Aug 13:00'][round(datum.value/16)]",
  "labelAlign": "left", "labelBaseline": "top", "labelPadding": 2, "tickSize": 4, "tickColor": "#000000", "labelColor": "#000000", "labelFont": "Liberation Sans", "labelFontSize": 14, "labelFlush": false, "labelOverlap": false}},
"y": {"field": "l", "type": "quantitative", "scale": {"domain": [1883.69, 1925.37], "nice": false, "zero": false},
 "axis": {"orient": "right", "title": null, "grid": false, "domain": false, "values": [1885.15,1887.70,1890.30,1892.90,1895.50,1898.10,1900.70,1903.30,1905.85,1908.45,1911.05,1913.65,1916.25,1918.85,1921.45,1924.05],
  "format": ".2f", "tickSize": 4, "tickColor": "#000000", "labelColor": "#000000", "labelFont": "Liberation Sans", "labelFontSize": 14, "labelPadding": 3, "labelBaseline": "middle", "labelFlush": false, "labelOverlap": false}},
"y2": {"field": "h"},
"color": {"condition": [{"test": "datum.c > datum.o", "value": "#FF0000"}, {"test": "datum.c == datum.o", "value": "#000000"}], "value": "#20B2AA"}
}
},
{
"data": {"name": "candles"},
"mark": {"type": "bar", "width": 5, "clip": true},
"encoding": {
"x": {"field": "i", "type": "quantitative", "scale": {"domain": [-0.125, 278.75], "nice": false, "zero": false}},
"y": {"field": "o", "type": "quantitative", "scale": {"domain": [1883.69, 1925.37], "nice": false, "zero": false}},
"y2": {"field": "c"},
"color": {"condition": [{"test": "datum.c > datum.o", "value": "#FF0000"}, {"test": "datum.c == datum.o", "value": "#000000"}], "value": "#20B2AA"}
}
},
{
"data": {"name": "blue"},
"mark": {"type": "line", "color": "#0000FF", "strokeWidth": 3, "clip": true},
"encoding": {
"x": {"field": "i", "type": "quantitative", "scale": {"domain": [-0.125, 278.75], "nice": false, "zero": false}},
"y": {"field": "p", "type": "quantitative", "scale": {"domain": [1883.69, 1925.37], "nice": false, "zero": false}}
}
},
{
"data": {"name": "red"},
"mark": {"type": "line", "color": "#FF0000", "strokeWidth": 3, "clip": true},
"encoding": {
"x": {"field": "i", "type": "quantitative", "scale": {"domain": [-0.125, 278.75], "nice": false, "zero": false}},
"y": {"field": "p", "type": "quantitative", "scale": {"domain": [1883.69, 1925.37], "nice": false, "zero": false}}
}
},
{
"data": {"name": "zones"},
"mark": {"type": "rect", "color": "#00FF00", "blend": "multiply"},
"encoding": {
"x": {"field": "i", "type": "quantitative", "scale": {"domain": [-0.125, 278.75], "nice": false, "zero": false}},
"x2": {"field": "i2"},
"y": {"field": "p", "type": "quantitative", "scale": {"domain": [1883.69, 1925.37], "nice": false, "zero": false}},
"y2": {"field": "p2"}
}
},
{
"data": {"name": "arrows"},
"mark": {"type": "rule", "color": "#7F7F7F", "opacity": 0.4, "strokeWidth": 10, "strokeCap": "round", "xOffset": 4, "yOffset": 5, "x2Offset": 4, "y2Offset": 5, "clip": true},
"encoding": {
"x": {"field": "i", "type": "quantitative", "scale": {"domain": [-0.125, 278.75], "nice": false, "zero": false}},
"x2": {"field": "i2"},
"y": {"field": "p", "type": "quantitative", "scale": {"domain": [1883.69, 1925.37], "nice": false, "zero": false}},
"y2": {"field": "p2"}
}
},
{
"data": {"name": "arrows"},
"mark": {"type": "rule", "color": "#FF0000", "strokeWidth": 8, "strokeCap": "round", "clip": true},
"encoding": {
"x": {"field": "i", "type": "quantitative", "scale": {"domain": [-0.125, 278.75], "nice": false, "zero": false}},
"x2": {"field": "i2"},
"y": {"field": "p", "type": "quantitative", "scale": {"domain": [1883.69, 1925.37], "nice": false, "zero": false}},
"y2": {"field": "p2"}
}
},
{
"data": {"values": [{"i": 128.3, "p": 1921.18, "t": "黄金1小时图"}]},
"mark": {"type": "text", "color": "#FF0000", "fontSize": 47, "font": "Liberation Serif, Noto Sans CJK SC", "align": "center", "baseline": "middle"},
"encoding": {
"x": {"field": "i", "type": "quantitative", "scale": {"domain": [-0.125, 278.75], "nice": false, "zero": false}},
"y": {"field": "p", "type": "quantitative", "scale": {"domain": [1883.69, 1925.37], "nice": false, "zero": false}},
"text": {"field": "t"}
}
},
{
"data": {"values": [{"i": 2.5, "p": 1924.96, "t": "XAUUSD,H1\u00a0\u00a01915.89 1916.59 1915.19 1915.56"}]},
"mark": {"type": "text", "color": "#000000", "fontSize": 14, "font": "Liberation Sans", "align": "left", "baseline": "middle"},
"encoding": {
"x": {"field": "i", "type": "quantitative", "scale": {"domain": [-0.125, 278.75], "nice": false, "zero": false}},
"y": {"field": "p", "type": "quantitative", "scale": {"domain": [1883.69, 1925.37], "nice": false, "zero": false}},
"text": {"field": "t"}
}
},
{
"data": {"values": [{"i": 0.875, "p": 1924.98, "k": "a"}, {"i": 222.4, "p": 1925.2, "k": "b"}]},
"mark": {"type": "point", "shape": "triangle-down", "filled": true, "opacity": 1},
"encoding": {
"x": {"field": "i", "type": "quantitative", "scale": {"domain": [-0.125, 278.75], "nice": false, "zero": false}},
"y": {"field": "p", "type": "quantitative", "scale": {"domain": [1883.69, 1925.37], "nice": false, "zero": false}},
"color": {"field": "k", "type": "nominal", "scale": {"domain": ["a", "b"], "range": ["#000000", "#C0C0C0"]}, "legend": null},
"size": {"field": "k", "type": "nominal", "scale": {"domain": ["a", "b"], "range": [45, 110]}, "legend": null}
}
},
{
"data": {"values": [{"i": 278.9, "i2": 286.8, "p": 1915.92, "p2": 1915.20}]},
"mark": {"type": "rect", "color": "#000000"},
"encoding": {
"x": {"field": "i", "type": "quantitative", "scale": {"domain": [-0.125, 278.75], "nice": false, "zero": false}},
"x2": {"field": "i2"},
"y": {"field": "p", "type": "quantitative", "scale": {"domain": [1883.69, 1925.37], "nice": false, "zero": false}},
"y2": {"field": "p2"}
}
},
{
"data": {"values": [{"i": 279.6, "p": 1915.56, "t": "1915.56"}]},
"mark": {"type": "text", "color": "#FFFFFF", "fontSize": 14, "font": "Liberation Sans", "align": "left", "baseline": "middle"},
"encoding": {
"x": {"field": "i", "type": "quantitative", "scale": {"domain": [-0.125, 278.75], "nice": false, "zero": false}},
"y": {"field": "p", "type": "quantitative", "scale": {"domain": [1883.69, 1925.37], "nice": false, "zero": false}},
"text": {"field": "t"}
}
}
]
}
